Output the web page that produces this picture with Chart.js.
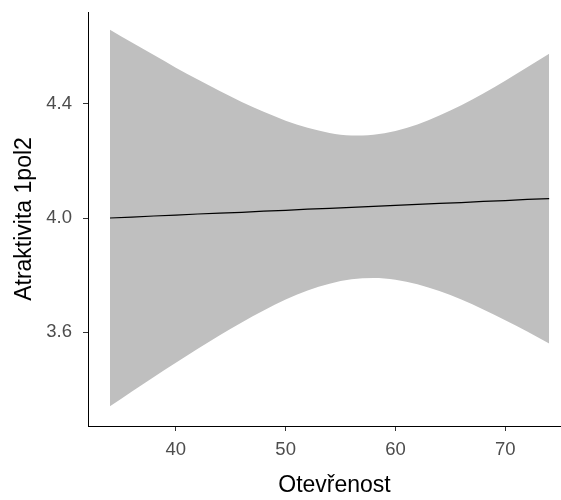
<!DOCTYPE html>
<html>
<head>
<meta charset="utf-8">
<script src="https://cdn.jsdelivr.net/npm/chart.js@4"></script>
<style>
  html, body { margin: 0; padding: 0; background: #fff; overflow: hidden; width: 561px; height: 500px; }
</style>
</head>
<body>
<canvas id="myChart" width="581" height="500"></canvas>
<script>
// Otevřenost values where the fit is drawn
const xValues = [34, 36, 38, 40, 42, 44, 46, 48, 50, 52, 54, 56, 58, 60, 62, 64, 66, 68, 70, 72, 74];
// fitted line
const fitValues = [4.000, 4.003, 4.007, 4.010, 4.014, 4.017, 4.020, 4.024, 4.027, 4.031, 4.034,
  4.037, 4.041, 4.044, 4.048, 4.051, 4.054, 4.058, 4.061, 4.065, 4.068];
// confidence band
const upperValues = [4.660, 4.615, 4.571, 4.527, 4.485, 4.445, 4.407, 4.372, 4.341, 4.316, 4.298,
  4.289, 4.292, 4.305, 4.328, 4.359, 4.395, 4.436, 4.481, 4.528, 4.576];
const lowerValues = [3.340, 3.392, 3.443, 3.493, 3.542, 3.589, 3.634, 3.676, 3.714, 3.746, 3.770,
  3.785, 3.790, 3.784, 3.768, 3.744, 3.714, 3.679, 3.642, 3.602, 3.560];

const xTicks = [40, 50, 60, 70];
const yTicks = [3.6, 4.0, 4.4];

const toPoints = (ys) => xValues.map((x, i) => ({x: x, y: ys[i]}));

const font = 'Liberation Sans, Arial, Helvetica, sans-serif';

const ctx = document.getElementById('myChart');
new Chart(ctx, {
  type: 'line',
  data: {
    datasets: [
      {
        label: 'fit',
        data: toPoints(fitValues),
        borderColor: '#000000',
        borderWidth: 1.2,
        pointRadius: 0,
        fill: false,
      },
      {
        label: 'upper',
        data: toPoints(upperValues),
        borderWidth: 0,
        borderColor: 'rgba(0,0,0,0)',
        backgroundColor: '#bfbfbf',
        pointRadius: 0,
        cubicInterpolationMode: 'monotone',
        fill: '+1',
      },
      {
        label: 'lower',
        data: toPoints(lowerValues),
        borderWidth: 0,
        borderColor: 'rgba(0,0,0,0)',
        pointRadius: 0,
        cubicInterpolationMode: 'monotone',
        fill: false,
      },
    ],
  },
  options: {
    responsive: false,
    animation: false,
    layout: {padding: {top: 12, right: 0, bottom: 0, left: 0}},
    plugins: {legend: {display: false}, tooltip: {enabled: false}},
    scales: {
      x: {
        type: 'linear',
        min: 32,
        max: 76.9,
        afterFit: (scale) => {
          scale.height = 74;
          scale.paddingLeft = 0;
          scale.paddingRight = 0;
        },
        afterBuildTicks: (scale) => { scale.ticks = xTicks.map((v) => ({value: v})); },
        border: {color: '#000000', width: 1},
        grid: {drawOnChartArea: false, drawTicks: true, tickLength: 5, tickColor: '#333333', tickWidth: 1},
        ticks: {color: '#4d4d4d', padding: 8, font: {family: font, size: 18.5}},
        title: {display: true, text: 'Otevřenost', color: '#000000',
          padding: {top: 0, bottom: 1}, font: {family: font, size: 23}},
      },
      y: {
        type: 'linear',
        min: 3.271,
        max: 4.722,
        afterFit: (scale) => {
          scale.width = 88;
          scale.paddingTop = 0;
          scale.paddingBottom = 0;
        },
        afterBuildTicks: (scale) => { scale.ticks = yTicks.map((v) => ({value: v})); },
        border: {color: '#000000', width: 1},
        grid: {drawOnChartArea: false, drawTicks: true, tickLength: 5, tickColor: '#333333', tickWidth: 1},
        ticks: {color: '#4d4d4d', padding: 11, font: {family: font, size: 18.5},
          callback: (v) => v.toFixed(1)},
        title: {display: true, text: 'Atraktivita 1pol2', color: '#000000',
          padding: {top: 11, bottom: 0}, font: {family: font, size: 23}},
      },
    },
  },
});
</script>
</body>
</html>
